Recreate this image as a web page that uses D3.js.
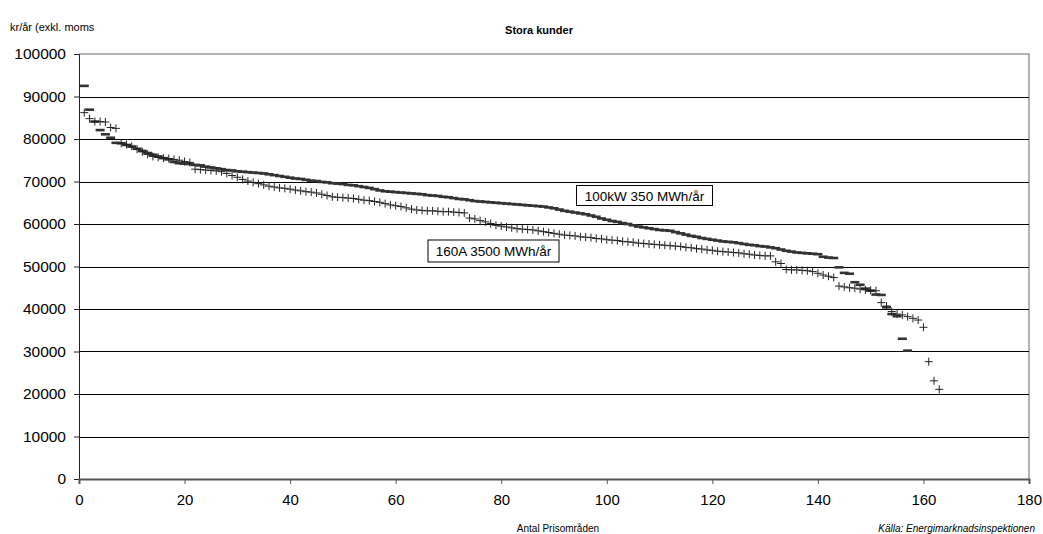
<!DOCTYPE html>
<html>
<head>
<meta charset="utf-8">
<script src="https://cdn.jsdelivr.net/npm/d3@7"></script>
<style>
  body { margin: 0; background: #fff; }
  svg { font-family: "Liberation Sans", Arial, sans-serif; }
</style>
</head>
<body>
<div id="chart"></div>
<script>
// 100kW 350 MWh/år  (drawn as dashes)
let seriesA = [
  92500, 86900, 84100, 82100, 81100, 80300, 79100, 79000, 78600, 78200,
  77700, 77200, 76700, 76300, 75900, 75500, 75200, 74600, 74300, 74200,
  74100, 73900, 73800, 73500, 73300, 73100, 72900, 72700, 72600, 72400,
  72300, 72200, 72100, 72000, 71900, 71700, 71500, 71300, 71100, 70900,
  70700, 70600, 70400, 70200, 70100, 69900, 69800, 69600, 69500, 69400,
  69200, 69100, 68900, 68700, 68500, 68200, 67900, 67700, 67600, 67500,
  67400, 67300, 67200, 67100, 67000, 66800, 66700, 66600, 66400, 66300,
  66100, 65900, 65800, 65600, 65400, 65300, 65200, 65100, 65000, 64900,
  64800, 64700, 64600, 64500, 64400, 64300, 64200, 64100, 63900, 63700,
  63400, 63100, 62900, 62700, 62500, 62300, 62000, 61700, 61300, 61000,
  60700, 60500, 60200, 60000, 59700, 59400, 59200, 59000, 58800, 58600,
  58500, 58400, 58100, 57800, 57500, 57200, 57000, 56700, 56500, 56300,
  56100, 55900, 55800, 55700, 55500, 55300, 55100, 55000, 54800, 54700,
  54500, 54300, 54000, 53700, 53500, 53300, 53200, 53100, 53000, 52900,
  52300, 52100, 52000, 49800, 48500, 48300, 46300, 45700, 44800, 44300,
  43400, 43300, 40400, 38800, 38300, 33000, 30200
];
// 160A 3500 MWh/år  (drawn as plus signs)
let seriesB = [
  86200, 84800, 84100, 84100, 84000, 82700, 82500, 79000, 78700, 78300,
  77600, 77000, 76400, 75900, 75700, 75500, 75400, 75200, 75000, 74700,
  74500, 72900, 72800, 72700, 72600, 72500, 72300, 71900, 71400, 71000,
  70500, 70100, 69800, 69500, 69200, 68900, 68700, 68500, 68400, 68200,
  68000, 67800, 67600, 67500, 67300, 67000, 66700, 66400, 66300, 66200,
  66100, 66000, 65800, 65600, 65500, 65300, 65100, 64800, 64500, 64300,
  64100, 63800, 63500, 63300, 63200, 63100, 63100, 63000, 62900, 62900,
  62800, 62700, 62600, 61400, 61200, 60800, 60500, 60100, 59700, 59500,
  59300, 59100, 58900, 58800, 58700, 58600, 58400, 58200, 58000, 57800,
  57600, 57400, 57300, 57200, 57000, 56900, 56800, 56600, 56500, 56300,
  56200, 56100, 55900, 55800, 55700, 55500, 55400, 55300, 55200, 55100,
  55000, 54900, 54800, 54700, 54500, 54400, 54200, 54100, 53900, 53800,
  53600, 53500, 53400, 53300, 53200, 53000, 52900, 52700, 52600, 52500,
  52500, 51100, 50700, 49300, 49200, 49200, 49100, 49000, 48800, 48400,
  48000, 47700, 47400, 45400, 45200, 45000, 44900, 44700, 44500, 44400,
  44300, 41500, 40700, 39400, 38800, 38600, 38200, 37800, 37400, 35700,
  27600, 23100, 21100
];
let yTicks = [0, 10000, 20000, 30000, 40000, 50000, 60000, 70000, 80000, 90000, 100000];
let xTicks = [0, 20, 40, 60, 80, 100, 120, 140, 160, 180];
let seriesLabels = ["100kW 350 MWh/år", "160A 3500 MWh/år"];

let width = 1043, height = 534;
let margin = ({top: 54, right: 14, bottom: 55, left: 79});

const svg = d3.select("#chart").append("svg")
    .attr("width", width)
    .attr("height", height);

let x = d3.scaleLinear()
    .domain([0, 180])
    .range([margin.left, width - margin.right]);
let y = d3.scaleLinear()
    .domain([0, 100000])
    .range([height - margin.bottom, margin.top]);

// plot frame (top and right in grey)
svg.append("path")
   .attr("d", `M${x(0)},${y(100000)}H${x(180)}V${y(0)}`)
   .attr("fill", "none")
   .attr("stroke", "#9a9a9a")
   .attr("stroke-width", 1.5);

// gridlines
svg.append("g")
   .selectAll("line")
   .data(yTicks.filter(d => d > 0 && d < 100000))
   .join("line")
   .attr("x1", x(0)).attr("x2", x(180))
   .attr("y1", d => Math.round(y(d)) + 0.5)
   .attr("y2", d => Math.round(y(d)) + 0.5)
   .attr("stroke", "#000");

// axes
let yAxis = g => g
    .attr("transform", `translate(${x(0)},0)`)
    .call(d3.axisLeft(y).tickValues(yTicks).tickFormat(d3.format("d")).tickSize(5).tickPadding(8))
    .call(g => g.selectAll("text").attr("font-size", 15.5).attr("fill", "#000").attr("font-family", null))
    .call(g => g.selectAll("line, path").attr("stroke", "#222"));

let xAxis = g => g
    .attr("transform", `translate(0,${y(0)})`)
    .call(d3.axisBottom(x).tickValues(xTicks).tickFormat(d3.format("d")).tickSize(5).tickPadding(10))
    .call(g => g.selectAll("text").attr("font-size", 15).attr("fill", "#000").attr("font-family", null))
    .call(g => g.selectAll("line").attr("stroke", "#555"))
    .call(g => g.select(".domain").attr("stroke", "#555").attr("stroke-width", 2));

svg.append("g").call(yAxis);
svg.append("g").call(xAxis);

// dash markers
svg.append("g")
   .selectAll("rect")
   .data(seriesA)
   .join("rect")
   .attr("x", (d, i) => x(i + 1) - 4.5)
   .attr("y", d => y(d) - 1.3)
   .attr("width", 9)
   .attr("height", 2.6)
   .attr("fill", "#333");

// plus markers
svg.append("g")
   .selectAll("path")
   .data(seriesB)
   .join("path")
   .attr("d", (d, i) => `M${x(i + 1) - 4},${y(d)}h8M${x(i + 1)},${y(d) - 4}v8`)
   .attr("stroke", "#222")
   .attr("stroke-width", 1)
   .attr("fill", "none");

// series labels in boxes
let boxes = [
  {text: seriesLabels[0], x: 576, y: 185, w: 136, h: 20},
  {text: seriesLabels[1], x: 427.5, y: 239.5, w: 131, h: 22}
];
boxes.forEach(b => {
  svg.append("rect")
     .attr("x", b.x + 0.5).attr("y", b.y + 0.5)
     .attr("width", b.w).attr("height", b.h)
     .attr("fill", "#fff").attr("stroke", "#000");
  svg.append("text")
     .attr("x", b.x + b.w / 2 + 0.5).attr("y", b.y + b.h / 2 + 5.5)
     .attr("text-anchor", "middle")
     .attr("font-size", 13.5)
     .text(b.text);
});

// titles
svg.append("text")
   .attr("x", 539).attr("y", 34)
   .attr("text-anchor", "middle")
   .attr("font-size", 11).attr("font-weight", "bold")
   .text("Stora kunder");
svg.append("text")
   .attr("x", 10).attr("y", 31)
   .attr("font-size", 11)
   .text("kr/år (exkl. moms");
svg.append("text")
   .attr("x", 558).attr("y", 532)
   .attr("text-anchor", "middle")
   .attr("font-size", 10)
   .text("Antal Prisområden");
svg.append("text")
   .attr("x", 1035).attr("y", 532)
   .attr("text-anchor", "end")
   .attr("font-size", 10).attr("font-style", "italic")
   .text("Källa: Energimarknadsinspektionen");
</script>
</body>
</html>
